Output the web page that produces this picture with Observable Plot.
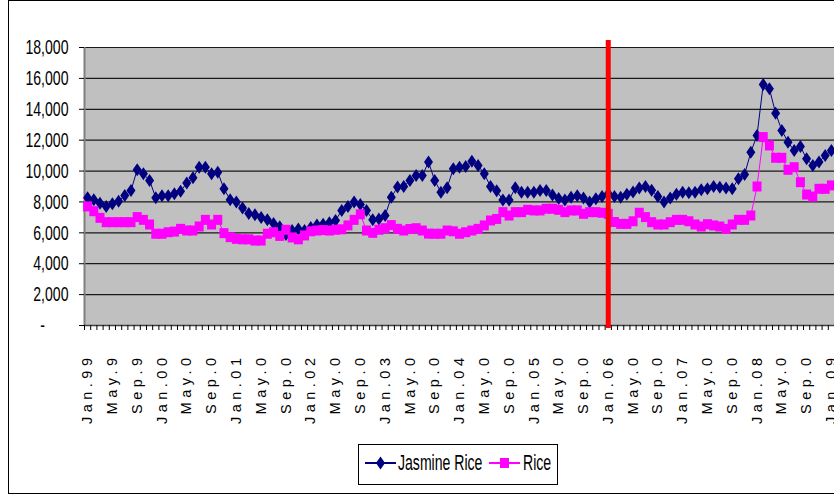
<!DOCTYPE html>
<html><head><meta charset="utf-8">
<script src="https://cdn.jsdelivr.net/npm/d3@7"></script>
<script src="https://cdn.jsdelivr.net/npm/@observablehq/plot@0.6"></script>
<style>
html,body{margin:0;padding:0;background:#fff;overflow:hidden;}
#wrap{position:relative;width:834px;height:495px;overflow:hidden;font-family:"Liberation Sans",Arial,sans-serif;}
#border{position:absolute;left:8px;top:0;width:900px;height:494px;border:1px solid #000;box-sizing:border-box;}
#chart{position:absolute;left:0;top:0;}
#legend{position:absolute;left:358px;top:444px;}
g[aria-label="x-axis tick label"] text{letter-spacing:4.5px;}
</style></head><body>
<div id="wrap"><div id="border"></div><div id="chart"></div><div id="legend"></div></div>
<script>
// Monthly series, Jan 1999 .. Jan 2009
const seriesNames = ["Jasmine Rice", "Rice"];
const jasmine = [8270,8140,7920,7710,7880,8050,8420,8740,10080,9820,9390,8270,8400,8400,8530,8700,9220,9560,10250,10250,
9820,9930,8850,8140,7990,7600,7250,7170,7000,6850,6600,6400,5900,6150,6250,6150,6350,6500,6550,6650,
6800,7450,7700,7990,7840,7450,6840,6900,7120,8310,8960,9000,9390,9710,9710,10580,9390,8630,8920,10150,
10250,10300,10640,10360,9820,9000,8720,8120,8120,8920,8630,8630,8630,8740,8740,8450,8230,8120,8310,8400,
8250,7990,8200,8350,8530,8350,8300,8500,8650,8900,9000,8750,8350,8000,8250,8500,8630,8600,8630,8790,
8850,9000,8950,8900,8850,9500,9780,11220,12310,15610,15330,13750,12630,11870,11330,11590,10790,10360,10580,11010,
11330];
const rice = [7710,7400,6970,6690,6690,6690,6690,6690,7020,6840,6540,5940,5940,6040,6080,6260,6150,6150,6410,6840,
6540,6840,5980,5720,5610,5580,5580,5500,5500,5940,6040,5800,6200,5700,5580,5830,6100,6150,6180,6150,
6200,6230,6480,6840,7200,6150,6000,6200,6300,6500,6260,6150,6250,6300,6150,5950,5940,5940,6150,6100,
5940,6040,6150,6260,6480,6800,6900,7340,7120,7340,7340,7490,7450,7450,7560,7560,7490,7340,7450,7450,
7230,7340,7340,7300,7230,6700,6580,6580,6750,7300,7020,6690,6540,6540,6690,6840,6840,6750,6540,6410,
6560,6480,6410,6260,6540,6840,6840,7120,9000,12200,11660,10860,10860,10080,10250,9280,8480,8350,8850,8850,
9070];
const tickLabels = ["Jan.99","May.9","Sep.9","Jan.00","May.0","Sep.0","Jan.01","May.0","Sep.0","Jan.02","May.0","Sep.0",
"Jan.03","May.0","Sep.0","Jan.04","May.0","Sep.0","Jan.05","May.0","Sep.0","Jan.06","May.0","Sep.0",
"Jan.07","May.0","Sep.0","Jan.08","May.0","Sep.0","Jan.09"];
const yTicks = [0,2000,4000,6000,8000,10000,12000,14000,16000,18000];
const eventLabel = "Jan.06";

const n = jasmine.length;
const rows = d3.range(n).map(i => ({i, jasmine: jasmine[i], rice: rice[i]}));
const labelIdx = tickLabels.map((_, k) => k * 4);
const bounds = d3.range(n + 1).map(k => k - 0.5);
const eventIdx = tickLabels.indexOf(eventLabel) * 4;

const diamond = {draw(ctx) { ctx.moveTo(0,-6.5); ctx.lineTo(4.5,0); ctx.lineTo(0,6.5); ctx.lineTo(-4.5,0); ctx.closePath(); }};
const square = {draw(ctx) { ctx.rect(-4.5,-5,9,10); }};
const fmt = d3.format(",");

const chart = Plot.plot({
  width: 834, height: 495,
  marginLeft: 84, marginRight: 0, marginTop: 47, marginBottom: 170,
  x: {domain: [-0.5, n - 0.5], axis: null, label: null},
  y: {domain: [0, 18000], axis: null, label: null},
  style: {background: "transparent", fontFamily: "'Liberation Sans', Arial, sans-serif", color: "#000"},
  marks: [
    Plot.frame({fill: "#c0c0c0", stroke: null}),
    Plot.ruleY(yTicks.filter(d => d > 0), {stroke: "#1a1a1a", strokeWidth: 1.2}),
    Plot.ruleX([-0.5], {stroke: "#808080", strokeWidth: 2}),
    Plot.ruleY([0], {stroke: "#404040", strokeWidth: 1.5}),
    Plot.axisY({ticks: yTicks, tickSize: 5, tickPadding: 11, fontSize: 21, label: null,
      tickFormat: d => d === 0 ? "-\u00a0\u00a0\u00a0\u00a0\u00a0\u00a0" : fmt(d)}),
    Plot.axisX({ticks: bounds, tickSize: 5, tickFormat: () => "", label: null}),
    Plot.axisX({ticks: labelIdx, tickSize: 0, tickPadding: 28, tickRotate: -90, fontSize: 14.5, label: null,
      tickFormat: i => tickLabels[i / 4]}),
    Plot.line(rows, {x: "i", y: "jasmine", stroke: "#000080", strokeWidth: 1}),
    Plot.dot(rows, {x: "i", y: "jasmine", symbol: diamond, fill: "#000080", stroke: null, r: 4}),
    Plot.line(rows, {x: "i", y: "rice", stroke: "#ff00ff", strokeWidth: 1}),
    Plot.dot(rows, {x: "i", y: "rice", symbol: square, fill: "#ff00ff", stroke: null, r: 4}),
    Plot.ruleX([eventIdx], {y1: -194, y2: 18450, stroke: "#ff0000", strokeWidth: 5})
  ]
});
document.getElementById("chart").appendChild(chart);
chart.querySelectorAll('g[aria-label="y-axis tick label"] text').forEach(t => {
  const w = t.getComputedTextLength();
  t.setAttribute("textLength", w * 0.67);
  t.setAttribute("lengthAdjust", "spacingAndGlyphs");
});

// Legend
const lg = d3.select("#legend").append("svg").attr("width", 201).attr("height", 42)
  .style("font-family", "'Liberation Sans', Arial, sans-serif");
lg.append("rect").attr("x", 0.5).attr("y", 0.5).attr("width", 199).attr("height", 40)
  .attr("fill", "#fff").attr("stroke", "#000");
const items = [
  {name: seriesNames[0], color: "#000080", sym: diamond, lx: 7, tx: 40},
  {name: seriesNames[1], color: "#ff00ff", sym: square, lx: 131, tx: 165}
];
items.forEach(it => {
  lg.append("line").attr("x1", it.lx).attr("x2", it.lx + 31).attr("y1", 19).attr("y2", 19)
    .attr("stroke", it.color).attr("stroke-width", 2);
  const p = d3.path(); it.sym.draw(p);
  lg.append("path").attr("d", p.toString()).attr("transform", `translate(${it.lx + 15.5},19)`).attr("fill", it.color);
  lg.append("text").attr("transform", `translate(${it.tx},25.5) scale(0.64,1)`)
    .attr("font-size", 22).attr("fill", "#000").text(it.name);
});
</script>
</body></html>
